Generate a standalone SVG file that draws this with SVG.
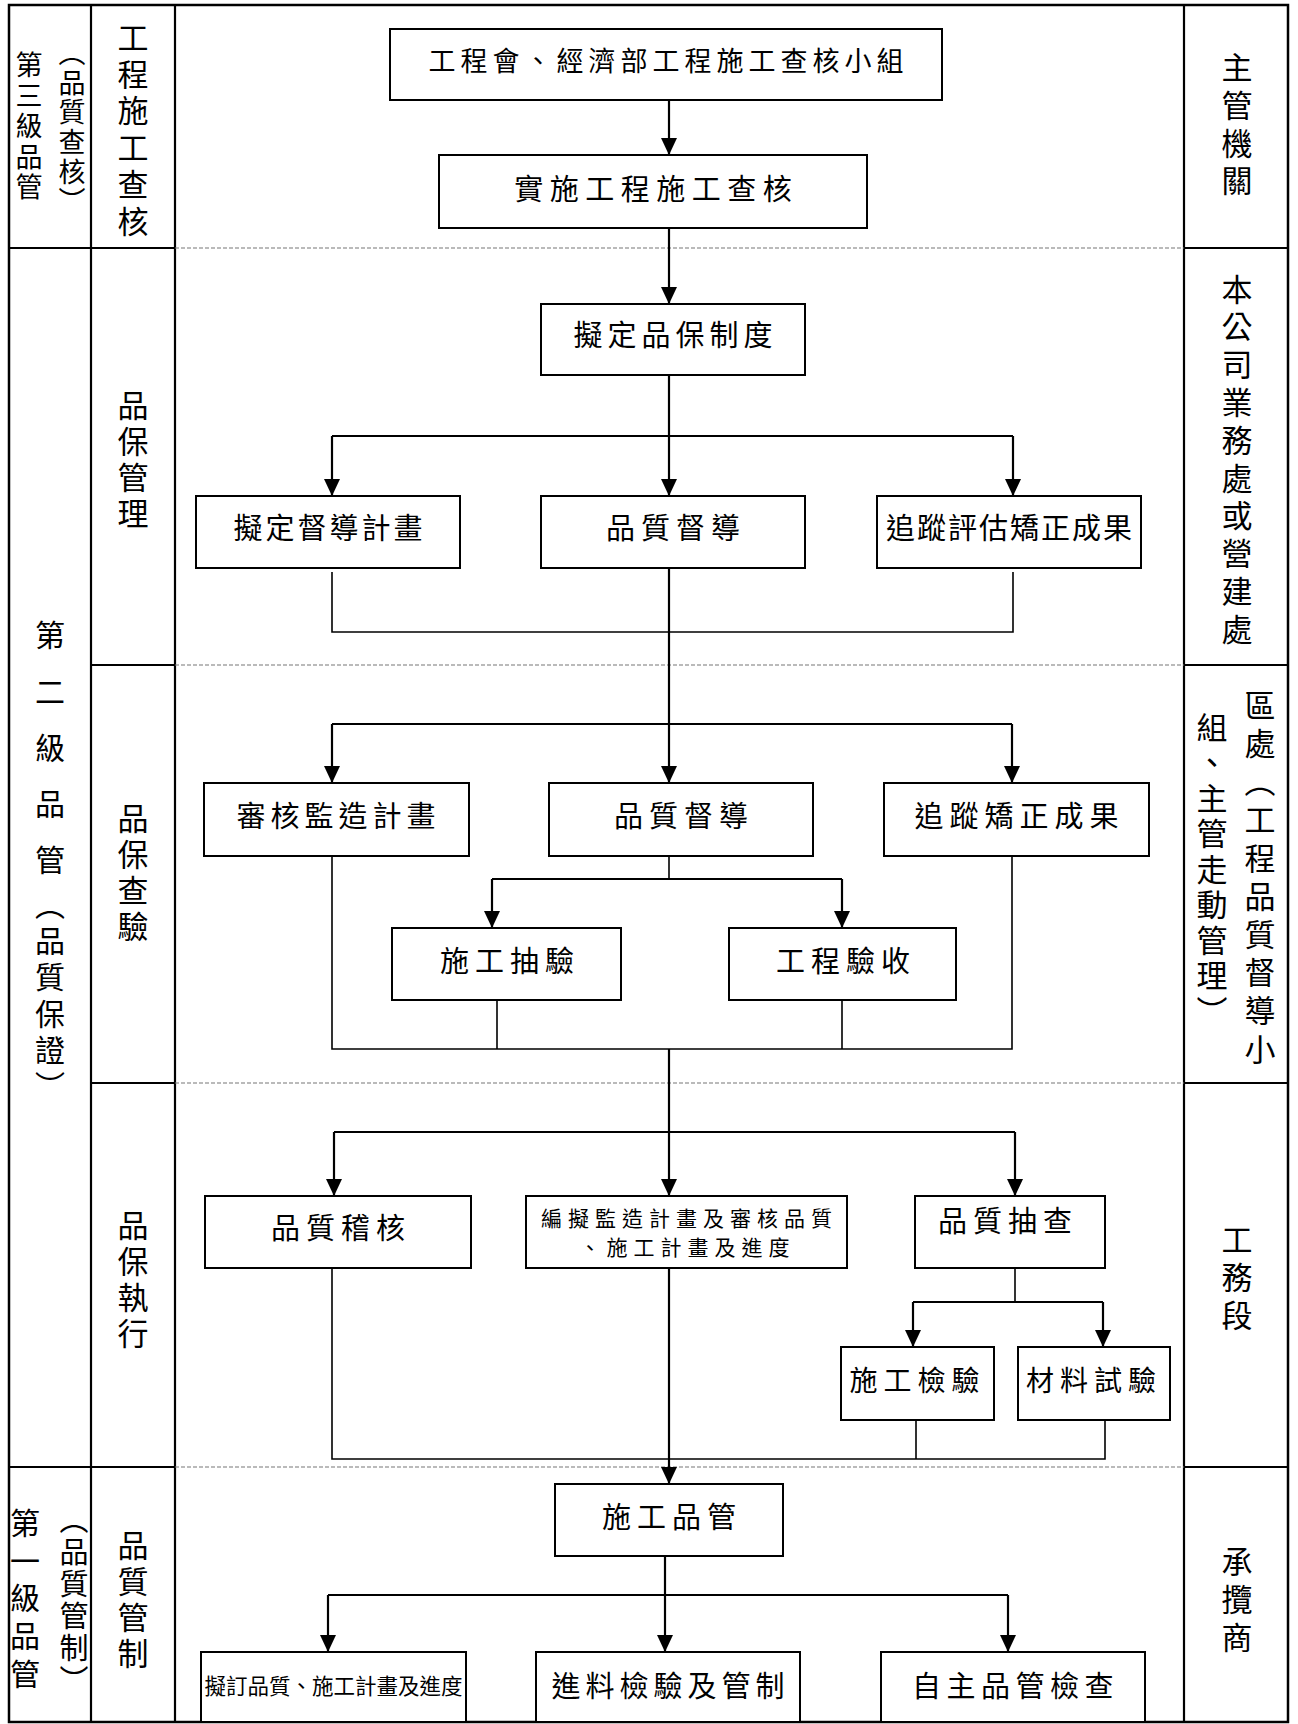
<svg xmlns="http://www.w3.org/2000/svg" width="1298" height="1724" viewBox="0 0 1298 1724">
  <defs>
    <marker id="ah" markerUnits="userSpaceOnUse" markerWidth="18" markerHeight="16" refX="17" refY="8" orient="auto">
      <path d="M0,0 L17,8 L0,16 Z" fill="#000"/>
    </marker>
    <style>
      .frame{fill:none;stroke:#000;stroke-width:2.5}
      .grid{stroke:#000;stroke-width:2.2;fill:none}
      .dash{stroke:#777;stroke-width:1.2;stroke-dasharray:4 2;fill:none}
      .box{fill:#fff;stroke:#000;stroke-width:2}
      .t{font-family:"Noto Sans CJK TC","Noto Sans CJK SC",sans-serif;font-size:29px;text-anchor:middle;dominant-baseline:central;fill:#000}
      .v{font-family:"Noto Sans CJK TC","Noto Sans CJK SC",sans-serif;font-size:31px;text-anchor:middle;writing-mode:vertical-rl;fill:#000}
      .flow{stroke:#000;stroke-width:2.2;fill:none}
      .arr{stroke:#000;stroke-width:2.2;fill:none;marker-end:url(#ah)}
      .join{stroke:#000;stroke-width:1.6;fill:none}
    </style>
  </defs>

  <!-- table frame -->
  <g id="frame">
    <rect class="frame" x="9" y="5" width="1279" height="1717"/>
    <path class="grid" d="M91,5 V1722 M175,5 V1722 M1184,5 V1722"/>
    <path class="grid" d="M9,248 H175 M91,665 H175 M91,1083 H175 M9,1467 H175"/>
    <path class="grid" d="M1184,248 H1288 M1184,665 H1288 M1184,1083 H1288 M1184,1467 H1288"/>
    <path class="dash" d="M175,248 H1184 M175,665 H1184 M175,1083 H1184 M175,1467 H1184"/>
  </g>

  <!-- level labels, left columns -->
  <g id="labels-left">
    <text class="v" x="29" y="127.8" style="font-size:27px;letter-spacing:3.6px">第三級品管</text>
    <text class="v" x="72" y="128.3" style="font-size:27px;letter-spacing:2.6px">（品質查核）</text>
    <text class="v" x="133" y="131.9" style="letter-spacing:5.8px">工程施工查核</text>
    <text class="v" x="50" y="760.6" style="font-size:30px;letter-spacing:26.25px">第二級品管</text>
    <text class="v" x="50" y="998.3" style="font-size:30px;letter-spacing:6.2px">（品質保證）</text>
    <text class="v" x="133" y="461.5" style="letter-spacing:5px">品保管理</text>
    <text class="v" x="133" y="874.5" style="letter-spacing:5px">品保查驗</text>
    <text class="v" x="133" y="1281.5" style="letter-spacing:5px">品保執行</text>
    <text class="v" x="133" y="1601.5" style="letter-spacing:5px">品質管制</text>
    <text class="v" x="25" y="1601.8" style="font-size:30px;letter-spacing:7.7px">第一級品管</text>
    <text class="v" x="74" y="1601.5" style="font-size:29px;letter-spacing:3px">（品質管制）</text>
  </g>

  <!-- responsible units, right column -->
  <g id="labels-right">
    <text class="v" x="1237" y="127.4" style="letter-spacing:6.7px">主管機關</text>
    <text class="v" x="1237" y="462.4" style="letter-spacing:6.8px">本公司業務處或營建處</text>
    <text class="v" x="1260" y="880.6" style="letter-spacing:7.2px">區處（工程品質督導小</text>
    <text class="v" x="1212" y="871.3" style="letter-spacing:4.5px">組、主管走動管理）</text>
    <text class="v" x="1237" y="1280.5" style="letter-spacing:7px">工務段</text>
    <text class="v" x="1237" y="1602.5" style="letter-spacing:7px">承攬商</text>
  </g>

  <!-- connectors -->
  <g id="connectors">
    <path class="arr" d="M669,100 V155"/>
    <path class="arr" d="M669,228 V304"/>
    <path class="flow" d="M669,375 V436 M332,436 H1013"/>
    <path class="arr" d="M332,436 V496"/>
    <path class="arr" d="M669,436 V496"/>
    <path class="arr" d="M1013,436 V496"/>
    <path class="join" d="M332,572 V632 H1013 V572"/>
    <path class="flow" d="M669,568 V724 M332,724 H1012"/>
    <path class="arr" d="M332,724 V783"/>
    <path class="arr" d="M669,724 V783"/>
    <path class="arr" d="M1012,724 V783"/>
    <path class="join" d="M669,856 V879"/>
    <path class="flow" d="M492,879 H842"/>
    <path class="arr" d="M492,879 V928"/>
    <path class="arr" d="M842,879 V928"/>
    <path class="join" d="M332,856 V1049 H1012 V856 M497,1000 V1049 M842,1000 V1049"/>
    <path class="flow" d="M669,1049 V1132 M334,1132 H1015"/>
    <path class="arr" d="M334,1132 V1196"/>
    <path class="arr" d="M669,1132 V1196"/>
    <path class="arr" d="M1015,1132 V1196"/>
    <path class="arr" d="M669,1268 V1484"/>
    <path class="join" d="M1015,1268 V1302"/>
    <path class="flow" d="M913,1302 H1103"/>
    <path class="arr" d="M913,1302 V1347"/>
    <path class="arr" d="M1103,1302 V1347"/>
    <path class="join" d="M332,1268 V1459 H1105 V1420 M916,1420 V1459"/>
    <path class="flow" d="M665,1556 V1595 M328,1595 H1008"/>
    <path class="arr" d="M328,1595 V1652"/>
    <path class="arr" d="M665,1595 V1652"/>
    <path class="arr" d="M1008,1595 V1652"/>
  </g>

  <!-- third level: construction audit -->
  <g id="n-audit-team">
    <rect class="box" x="390" y="29" width="552" height="71"/>
    <text class="t" x="668.5" y="59" style="font-size:27px;letter-spacing:5px">工程會、經濟部工程施工查核小組</text>
  </g>
  <g id="n-audit">
    <rect class="box" x="439" y="155" width="428" height="73"/>
    <text class="t" x="656.3" y="187" style="letter-spacing:6.5px">實施工程施工查核</text>
  </g>

  <!-- second level: quality assurance management -->
  <g id="n-qa-system">
    <rect class="box" x="541" y="304" width="264" height="71"/>
    <text class="t" x="675.5" y="333" style="letter-spacing:5px">擬定品保制度</text>
  </g>
  <g id="n-plan-supervision">
    <rect class="box" x="196" y="496" width="264" height="72"/>
    <text class="t" x="329.5" y="526" style="letter-spacing:3px">擬定督導計畫</text>
  </g>
  <g id="n-supervision-1">
    <rect class="box" x="541" y="496" width="264" height="72"/>
    <text class="t" x="676" y="526" style="letter-spacing:6px">品質督導</text>
  </g>
  <g id="n-track-evaluate">
    <rect class="box" x="877" y="496" width="264" height="72"/>
    <text class="t" x="1010" y="526" style="letter-spacing:2px">追蹤評估矯正成果</text>
  </g>

  <!-- second level: quality assurance inspection -->
  <g id="n-review-plan">
    <rect class="box" x="204" y="783" width="265" height="73"/>
    <text class="t" x="338.5" y="814" style="letter-spacing:5px">審核監造計畫</text>
  </g>
  <g id="n-supervision-2">
    <rect class="box" x="549" y="783" width="264" height="73"/>
    <text class="t" x="684" y="814" style="letter-spacing:6px">品質督導</text>
  </g>
  <g id="n-track-correct">
    <rect class="box" x="884" y="783" width="265" height="73"/>
    <text class="t" x="1019.5" y="814" style="letter-spacing:6px">追蹤矯正成果</text>
  </g>
  <g id="n-sampling">
    <rect class="box" x="392" y="928" width="229" height="72"/>
    <text class="t" x="510" y="959" style="letter-spacing:6px">施工抽驗</text>
  </g>
  <g id="n-acceptance">
    <rect class="box" x="729" y="928" width="227" height="72"/>
    <text class="t" x="846" y="959" style="letter-spacing:6px">工程驗收</text>
  </g>

  <!-- second level: quality assurance execution -->
  <g id="n-audit-quality">
    <rect class="box" x="205" y="1196" width="266" height="72"/>
    <text class="t" x="341" y="1226" style="letter-spacing:6px">品質稽核</text>
  </g>
  <g id="n-prepare-plans">
    <rect class="box" x="526" y="1196" width="321" height="72"/>
    <text class="t" x="689.5" y="1217" style="font-size:21px;letter-spacing:6px">編擬監造計畫及審核品質</text>
    <text class="t" x="687.5" y="1246" style="font-size:21px;letter-spacing:6px">、施工計畫及進度</text>
  </g>
  <g id="n-spot-check">
    <rect class="box" x="915" y="1196" width="190" height="72"/>
    <text class="t" x="1008" y="1219" style="letter-spacing:6px">品質抽查</text>
  </g>
  <g id="n-construction-check">
    <rect class="box" x="841" y="1347" width="153" height="73"/>
    <text class="t" x="917.5" y="1379" style="font-size:28px;letter-spacing:6px">施工檢驗</text>
  </g>
  <g id="n-material-test">
    <rect class="box" x="1018" y="1347" width="152" height="73"/>
    <text class="t" x="1094" y="1379" style="font-size:28px;letter-spacing:6px">材料試驗</text>
  </g>

  <!-- first level: quality control -->
  <g id="n-site-qc">
    <rect class="box" x="555" y="1484" width="228" height="72"/>
    <text class="t" x="672" y="1515" style="letter-spacing:6px">施工品管</text>
  </g>
  <g id="n-draft-plans">
    <rect class="box" x="201" y="1652" width="265" height="70"/>
    <text class="t" x="333.5" y="1684" style="font-size:21.5px">擬訂品質、施工計畫及進度</text>
  </g>
  <g id="n-incoming">
    <rect class="box" x="536" y="1652" width="264" height="70"/>
    <text class="t" x="670.5" y="1684" style="letter-spacing:5px">進料檢驗及管制</text>
  </g>
  <g id="n-self-check">
    <rect class="box" x="881" y="1652" width="264" height="70"/>
    <text class="t" x="1015.5" y="1684" style="letter-spacing:5.5px">自主品管檢查</text>
  </g>
</svg>
